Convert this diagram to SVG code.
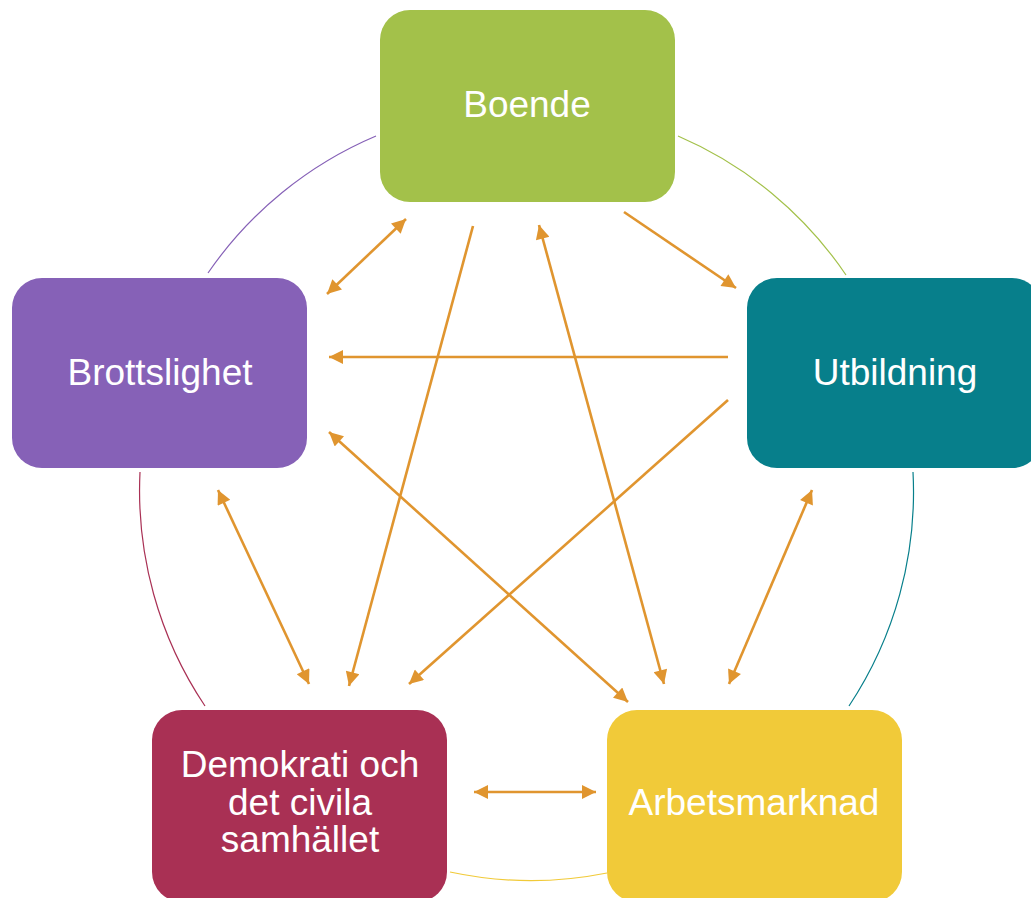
<svg xmlns="http://www.w3.org/2000/svg" width="1031" height="898" viewBox="0 0 1031 898">
<style>
.lbl{font-family:"Liberation Sans",Arial,sans-serif;font-size:37px;fill:#ffffff;text-anchor:middle}
.arc{fill:none;stroke-width:1.2}
.conn{fill:none;stroke:#E0952F;stroke-width:2.6}
</style>
<defs>
<marker id="ah" viewBox="0 0 10 10" refX="10" refY="5" markerUnits="userSpaceOnUse" markerWidth="16" markerHeight="14" orient="auto-start-reverse">
<path d="M0,0 L10,5 L0,10 z" fill="#E0952F"/>
</marker>
</defs>
<rect width="1031" height="898" fill="#ffffff"/>
<g id="ring">
<path class="arc" stroke="#8661B7" d="M208,273 A387,387 0 0 1 376,136"/>
<path class="arc" stroke="#A3C14A" d="M678,136 A387,387 0 0 1 846,275"/>
<path class="arc" stroke="#077F8B" d="M913,472 A387,387 0 0 1 849,706"/>
<path class="arc" stroke="#F1CA39" d="M607,873 A387,387 0 0 1 450,872"/>
<path class="arc" stroke="#A93054" d="M205,706 A387,387 0 0 1 140,472"/>
</g>
<g id="connectors">
<line class="conn" x1="327" y1="294" x2="406" y2="219" marker-start="url(#ah)" marker-end="url(#ah)"/>
<line class="conn" x1="473" y1="226" x2="349" y2="686" marker-end="url(#ah)"/>
<line class="conn" x1="664" y1="684" x2="539" y2="225" marker-start="url(#ah)" marker-end="url(#ah)"/>
<line class="conn" x1="624" y1="212" x2="736" y2="288" marker-end="url(#ah)"/>
<line class="conn" x1="728" y1="357" x2="329" y2="357" marker-end="url(#ah)"/>
<line class="conn" x1="728" y1="400" x2="409" y2="684" marker-end="url(#ah)"/>
<line class="conn" x1="329" y1="432" x2="628" y2="702" marker-start="url(#ah)" marker-end="url(#ah)"/>
<line class="conn" x1="218" y1="490" x2="309" y2="684" marker-start="url(#ah)" marker-end="url(#ah)"/>
<line class="conn" x1="812" y1="490" x2="729" y2="684" marker-start="url(#ah)" marker-end="url(#ah)"/>
<line class="conn" x1="474" y1="792" x2="596" y2="792" marker-start="url(#ah)" marker-end="url(#ah)"/>
</g>
<g id="boende">
<rect x="380" y="10" width="295" height="192" rx="30" fill="#A3C14A"/>
<text class="lbl" x="527" y="117">Boende</text>
</g>
<g id="brottslighet">
<rect x="12" y="278" width="295" height="190" rx="30" fill="#8661B7"/>
<text class="lbl" x="160" y="385">Brottslighet</text>
</g>
<g id="utbildning">
<rect x="747" y="278" width="295" height="190" rx="30" fill="#077F8B"/>
<text class="lbl" x="895" y="385">Utbildning</text>
</g>
<g id="demokrati">
<rect x="152" y="710" width="295" height="192" rx="30" fill="#A93054"/>
<text class="lbl" x="300" y="777">Demokrati och</text>
<text class="lbl" x="300" y="815">det civila</text>
<text class="lbl" x="300" y="852">samhället</text>
</g>
<g id="arbetsmarknad">
<rect x="607" y="710" width="295" height="192" rx="30" fill="#F1CA39"/>
<text class="lbl" x="754" y="815">Arbetsmarknad</text>
</g>
</svg>
